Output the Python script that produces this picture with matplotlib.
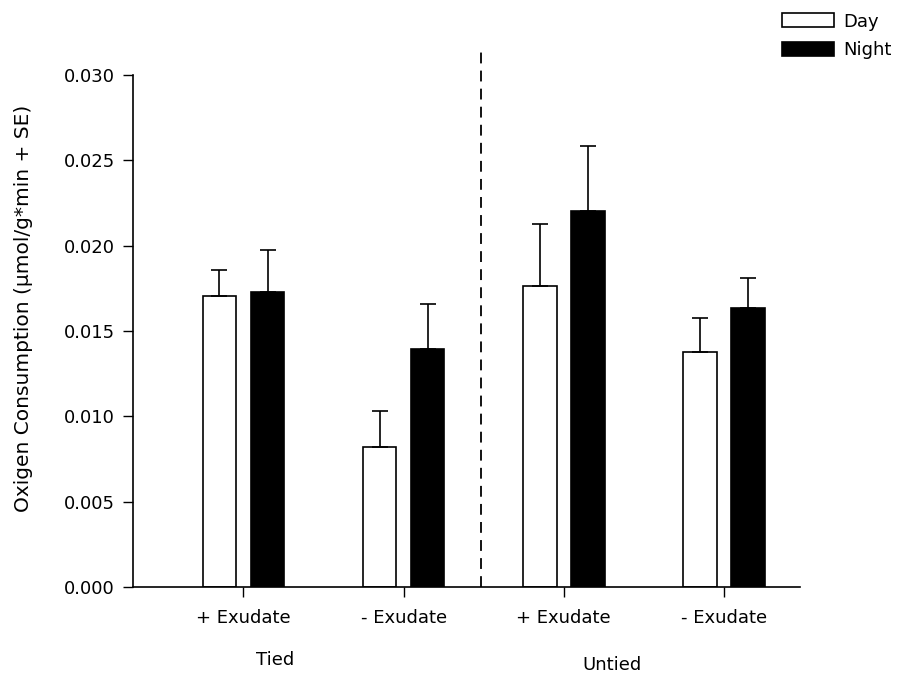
import matplotlib
matplotlib.use("Agg")
import matplotlib.pyplot as plt
import numpy as np

plt.rcParams['font.family'] = ['DejaVu Sans']

# Groups on the x axis
conditions = ["+ Exudate", "- Exudate", "+ Exudate", "- Exudate"]
groups = ["Tied", "Untied"]

# Oxygen consumption (µmol/g*min) and SE
day = [0.01705, 0.00822, 0.01766, 0.01377]
day_se = [0.00152, 0.00211, 0.00361, 0.00197]
night = [0.01730, 0.01393, 0.02203, 0.01637]
night_se = [0.00245, 0.00265, 0.00383, 0.00176]

x = np.arange(len(conditions))
w = 0.21
off = 0.15

fig = plt.figure(figsize=(9.1, 6.82), dpi=100)
ax = fig.add_axes([133/910, 1 - 587/682, (800 - 133)/910, (587 - 75)/682])

err_kw = dict(ecolor="black", elinewidth=1.2, capsize=6, capthick=1.2)
b1 = ax.bar(x - off, day, w, yerr=[np.zeros(4), day_se], color="white",
            edgecolor="black", linewidth=1.2, error_kw=err_kw, label="Day")
b2 = ax.bar(x + off, night, w, yerr=[np.zeros(4), night_se], color="black",
            edgecolor="black", linewidth=1.2, error_kw=err_kw, label="Night")

# dashed separator between Tied and Untied
ax.plot([1.48, 1.48], [0, 0.0315], color="black", linestyle=(0, (6, 4)),
        linewidth=1.3, clip_on=False)

ax.set_xlim(-0.69, 3.475)
ax.set_ylim(0, 0.030)
ax.set_yticks(np.arange(0, 0.0301, 0.005))
ax.set_yticklabels([f"{v:.3f}" for v in np.arange(0, 0.0301, 0.005)])
ax.set_xticks(x)
ax.set_xticklabels(conditions)
ax.tick_params(axis="both", direction="out", length=7, width=1, labelsize=13)
ax.tick_params(axis="x", pad=9)
ax.tick_params(axis="y", pad=6)
ax.spines["top"].set_visible(False)
ax.spines["right"].set_visible(False)
for s in ("left", "bottom"):
    ax.spines[s].set_linewidth(1.2)

ax.set_ylabel("Oxigen Consumption (µmol/g*min + SE)", fontsize=14.5)
ax.yaxis.set_label_coords(-0.15, 0.545)

fig.text(275/910, 1 - 660/682, groups[0], ha="center", va="center", fontsize=13)
fig.text(612/910, 1 - 665/682, groups[1], ha="center", va="center", fontsize=13)

fig.legend(handles=[b1, b2], loc="upper right", bbox_to_anchor=(1 - 6/910, 1.0),
           frameon=False, fontsize=13, handlelength=2.9, handleheight=0.8,
           handletextpad=0.5, labelspacing=0.6, borderaxespad=0.3)

fig.savefig("out.png", dpi=100)
